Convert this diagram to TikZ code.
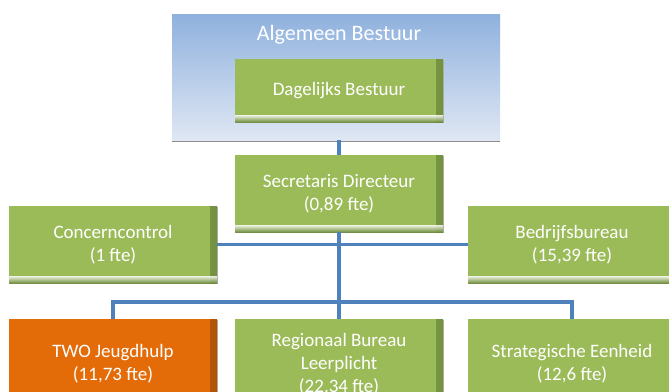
\documentclass[tikz,border=0pt]{standalone}
\usepackage{fontspec}
\setmainfont{Carlito}
\usetikzlibrary{shadows,calc}
\definecolor{grn}{HTML}{9BBB59}
\definecolor{grndark}{HTML}{6B8A38}
\definecolor{org}{HTML}{E36C09}
\definecolor{orgdark}{HTML}{A84E05}
\definecolor{lineblue}{HTML}{4F81BD}
\definecolor{abtop}{HTML}{8FB1DE}
\definecolor{abbot}{HTML}{DFE7F3}
\tikzset{
  edgeshade/.style={path picture={
    \shade[left color=#1!0, right color=#1, opacity=0.85]
      ($(path picture bounding box.north east)+(-7,0)$) rectangle (path picture bounding box.south east);
    \shade[top color=#1!0, bottom color=#1, opacity=0.85]
      ($(path picture bounding box.south west)+(0,-7)$) rectangle (path picture bounding box.south east);
  }},
  orgbox/.style={fill=grn, text=white, minimum width=208, minimum height=77,
    align=center, inner sep=0pt, font=\fontsize{19}{23}\selectfont,
    drop shadow={shadow xshift=1.2pt, shadow yshift=-1.2pt, fill=black!30, opacity=1},
    edgeshade=grndark},
  orangebox/.style={orgbox, fill=org, edgeshade=orgdark},
  conn/.style={draw=lineblue, line width=3.5pt}
}
\begin{document}
\begin{tikzpicture}[x=1pt,y=-1pt]
\useasboundingbox (0,0) rectangle (669,391);
\clip (0,0) rectangle (669,391);
\fill[white] (0,0) rectangle (669,391);
% Algemeen Bestuur
\node[minimum width=328, minimum height=126, inner sep=0pt,
  top color=abtop, bottom color=abbot,
  drop shadow={shadow xshift=0pt, shadow yshift=-2pt, fill=black!45, opacity=1}]
  (ab) at (336,77) {};
\node[text=white, font=\fontsize{22}{26}\selectfont, inner sep=0pt] (abt) at (339,35) {Algemeen Bestuur};
\node[orgbox, minimum height=63] (db) at (339,90.5) {Dagelijks Bestuur};
% Secretaris and units
\node[orgbox] (sd) at (339,193.5) {Secretaris Directeur\\(0,89 fte)};
\node[orgbox] (cc) at (113,244.5) {Concerncontrol\\(1 fte)};
\node[orgbox] (bb) at (572,244.5) {Bedrijfsbureau\\(15,39 fte)};
\node[orangebox, minimum height=90] (two) at (113,364) {TWO Jeugdhulp\\(11,73 fte)};
\node[orgbox, minimum height=90] (rb) at (339,364) {Regionaal Bureau\\Leerplicht\\(22,34 fte)};
\node[orgbox, minimum height=90] (se) at (572,364) {Strategische Eenheid\\(12,6 fte)};
\coordinate (j) at (339,302);
% connectors
\draw[conn] (ab.south -| sd.north) -- (sd.north);
\draw[conn] (sd.south) -- (rb.north);
\draw[conn] (cc.east) -- (bb.west);
\draw[conn] (two.north) |- (j) -| (se.north);
\end{tikzpicture}
\end{document}
